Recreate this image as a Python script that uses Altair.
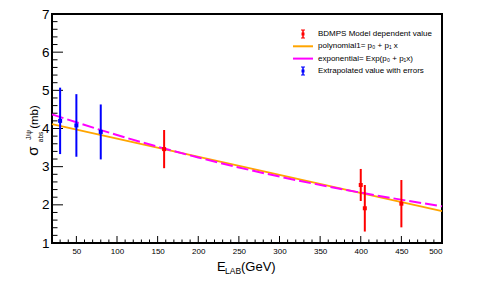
import altair as alt
import pandas as pd

# ---- data ----
blue_x = [30, 50, 80]
blue_y = [4.20, 4.08, 3.91]
blue_err = [0.87, 0.82, 0.72]

red_x = [158, 400, 405, 450]
red_y = [3.46, 2.52, 1.91, 2.03]
red_err = [0.50, 0.42, 0.61, 0.62]

poly_x = [20, 500]
poly_y = [4.115, 1.835]

exp_x = [20, 100, 200, 300, 400, 500]
exp_y = [4.37, 3.83, 3.24, 2.74, 2.32, 1.96]

x_labels = [50, 100, 150, 200, 250, 300, 350, 400, 450, 500]
y_labels = [1, 2, 3, 4, 5, 6, 7]

legend_labels = ["BDMPS Model dependent value",
                 "polynomial1= p\u2080 + p\u2081 x",
                 "exponential= Exp(p\u2080 + p\u2081x)",
                 "Extrapolated value with errors"]

FONT = "Liberation Sans"
RED = "#ff0000"
BLUE = "#0000ff"
ORANGE = "#ffa500"
MAGENTA = "#ff00ff"

W, H = 390, 229
xs = alt.Scale(domain=[20, 500], nice=False, zero=False)
ys = alt.Scale(domain=[1, 7], nice=False, zero=False)

XAX = alt.Axis(values=x_labels, ticks=False, domain=False, grid=False,
               labelFontSize=8, labelPadding=4, labelFont=FONT,
               labelColor="black", title=None)
YAX = alt.Axis(values=y_labels, format="d", ticks=False, domain=False,
               grid=False, labelFontSize=13.5, labelPadding=3,
               labelFont=FONT, labelColor="black", title=None)


def X(f):
    return alt.X(f, scale=xs, axis=XAX)


def Y(f):
    return alt.Y(f, scale=ys, axis=YAX)


pts = pd.DataFrame({
    "x": blue_x + red_x,
    "y": blue_y + red_y,
    "lo": [y - e for y, e in zip(blue_y, blue_err)] + [y - e for y, e in zip(red_y, red_err)],
    "hi": [y + e for y, e in zip(blue_y, blue_err)] + [y + e for y, e in zip(red_y, red_err)],
    "c": [BLUE] * len(blue_x) + [RED] * len(red_x),
})

# ticks (inward, ROOT style)
x_major = pd.DataFrame({"v": x_labels})
x_minor = pd.DataFrame({"v": [v for v in range(20, 500, 10) if v % 50 != 0]})
y_major = pd.DataFrame({"v": y_labels})
y_minor = pd.DataFrame({"v": [1 + i * 0.2 for i in range(31) if i % 5 != 0]})

xt1 = alt.Chart(x_major).mark_rule(color="black", strokeWidth=1).encode(
    x=X("v:Q"), y=alt.value(H), y2=alt.value(H - 7))
xt2 = alt.Chart(x_minor).mark_rule(color="black", strokeWidth=1).encode(
    x=X("v:Q"), y=alt.value(H), y2=alt.value(H - 3.5))
yt1 = alt.Chart(y_major).mark_rule(color="black", strokeWidth=1).encode(
    y=Y("v:Q"), x=alt.value(0), x2=alt.value(11))
yt2 = alt.Chart(y_minor).mark_rule(color="black", strokeWidth=1).encode(
    y=Y("v:Q"), x=alt.value(0), x2=alt.value(5.5))

poly = alt.Chart(pd.DataFrame({"x": poly_x, "y": poly_y})).mark_line(
    color=ORANGE, strokeWidth=2).encode(x=X("x:Q"), y=Y("y:Q"))
expl = alt.Chart(pd.DataFrame({"x": exp_x, "y": exp_y})).mark_line(
    color=MAGENTA, strokeWidth=2, strokeDash=[12, 4], interpolate="monotone").encode(
    x=X("x:Q"), y=Y("y:Q"))

err = alt.Chart(pts).mark_rule(strokeWidth=2).encode(
    x=X("x:Q"), y=Y("lo:Q"), y2="hi:Q", color=alt.Color("c:N", scale=None))
mk = alt.Chart(pts).mark_square(size=16, opacity=1).encode(
    x=X("x:Q"), y=Y("y:Q"), color=alt.Color("c:N", scale=None))

# ---- legend ----
LX_T, LX_S = 266, 251
LY = [20, 32.3, 44.6, 57]
leg = []
for lab, yy in zip(legend_labels, LY):
    leg.append(alt.Chart(pd.DataFrame({"t": [lab]})).mark_text(
        align="left", baseline="middle", fontSize=8, font=FONT, color="black").encode(
        text="t:N", x=alt.value(LX_T), y=alt.value(yy)))


def err_symbol(col, yy):
    d = pd.DataFrame({"a": [0]})
    return [
        alt.Chart(d).mark_rule(color=col, strokeWidth=1.5).encode(
            x=alt.value(LX_S), y=alt.value(yy - 4), y2=alt.value(yy + 4)),
        alt.Chart(d).mark_rule(color=col, strokeWidth=1).encode(
            x=alt.value(LX_S - 2), x2=alt.value(LX_S + 2), y=alt.value(yy - 4)),
        alt.Chart(d).mark_rule(color=col, strokeWidth=1).encode(
            x=alt.value(LX_S - 2), x2=alt.value(LX_S + 2), y=alt.value(yy + 4)),
        alt.Chart(d).mark_square(color=col, size=9, opacity=1).encode(
            x=alt.value(LX_S), y=alt.value(yy)),
    ]


leg += err_symbol(RED, LY[0])
leg += err_symbol(BLUE, LY[3])
d0 = pd.DataFrame({"a": [0]})
leg.append(alt.Chart(d0).mark_rule(color=ORANGE, strokeWidth=2).encode(
    x=alt.value(241), x2=alt.value(261), y=alt.value(LY[1])))
leg.append(alt.Chart(d0).mark_rule(color=MAGENTA, strokeWidth=2).encode(
    x=alt.value(241), x2=alt.value(261), y=alt.value(LY[2])))


# ---- axis titles ----
def txt(t, x, y, size, angle=0, align="center", baseline="middle"):
    kw = dict(align=align, baseline=baseline, fontSize=size, font=FONT, color="black")
    if angle:
        kw["angle"] = angle
    return alt.Chart(pd.DataFrame({"t": [t]})).mark_text(**kw).encode(
        text="t:N", x=alt.value(x), y=alt.value(y))


titles = [
    txt("E", 165, 257, 13, align="left", baseline="alphabetic"),
    txt("LAB", 173, 260, 8.5, align="left", baseline="alphabetic"),
    txt("(GeV)", 189, 257, 13, align="left", baseline="alphabetic"),
    txt("\u03c3", -19, 137, 15, angle=270),
    txt("J/\u03c8", -23, 121, 6.5, angle=270),
    txt("abs", -11, 123, 6.5, angle=270),
    txt("(mb)", -17.5, 103, 11.5, angle=270),
]

chart = alt.layer(
    xt1, xt2, yt1, yt2, poly, expl, err, mk, *leg, *titles
).properties(
    width=W, height=H,
    padding={"left": 44, "top": 6, "right": 38, "bottom": 36},
    autosize=alt.AutoSizeParams(type="none"),
).configure_view(stroke="black", strokeWidth=2)

chart.save("out.html", embed_options={"renderer": "svg", "actions": False})
